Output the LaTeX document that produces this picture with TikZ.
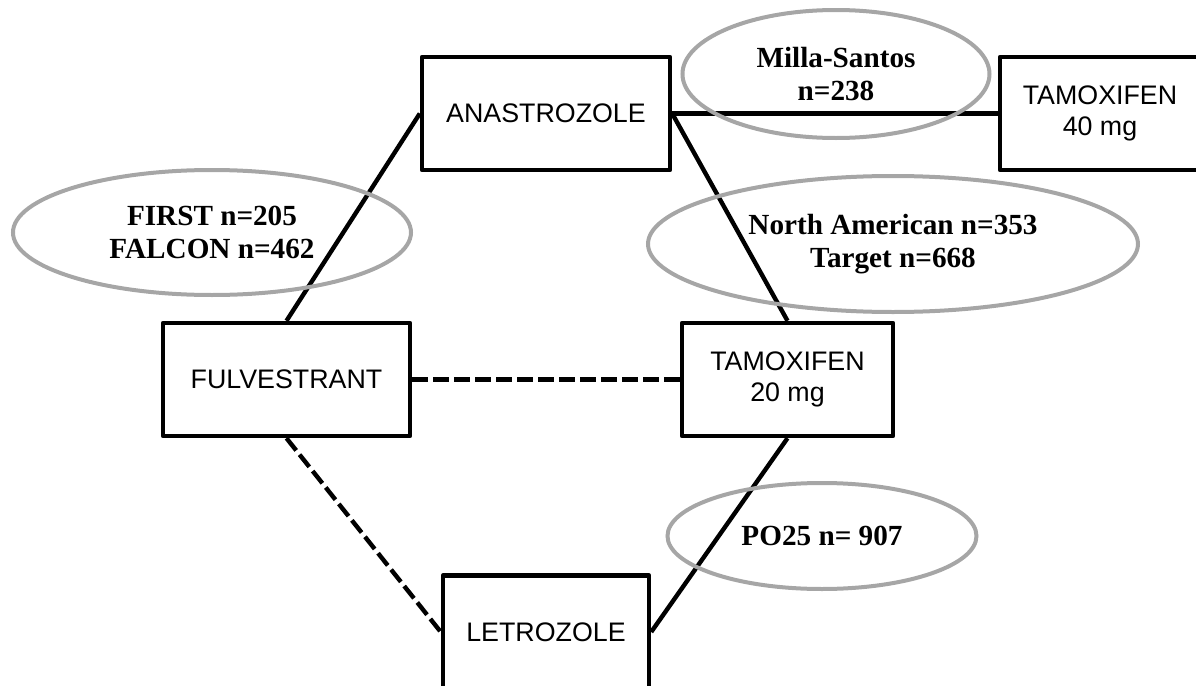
\documentclass[tikz,border=0pt]{standalone}
\usepackage{fontspec}
\setmainfont{Liberation Serif}
\setsansfont{Liberation Sans}
\usetikzlibrary{positioning,shapes.geometric}
\definecolor{ringgray}{RGB}{166,166,166}

\begin{document}
\begin{tikzpicture}[on grid,
    drug/.style={draw,line width=2.2pt,line join=round,rectangle,minimum height=56.5pt,
      inner sep=0pt,align=center,font=\sffamily\fontsize{13.4}{15.2}\selectfont},
    trial/.style={draw=ringgray,line width=2pt,ellipse,inner sep=0pt,align=center,
      font=\bfseries\fontsize{14.6}{16.5}\selectfont},
    link/.style={line width=2.2pt},
    weak/.style={link,dash pattern=on 7.8pt off 2.7pt}]
  \clip (-273pt,56.75pt) rectangle (325pt,-286.25pt);
  % drugs
  \node[drug,minimum width=124pt] (anas) {ANASTROZOLE};
  \node[drug,minimum width=100pt] (tam40) [right=277pt of anas] {TAMOXIFEN\\40 mg};
  \node[drug,minimum width=123.5pt] (fulv) [below left=133pt and 129.75pt of anas] {FULVESTRANT};
  \node[drug,minimum width=105.5pt] (tam20) [right=250.5pt of fulv] {TAMOXIFEN\\20 mg};
  \node[drug,minimum width=103pt] (letro) [below=259.25pt of anas] {LETROZOLE};
  % comparisons
  \draw[link] (anas.west) -- (fulv.north);
  \draw[link] (anas.east) -- (tam40.west);
  \draw[link] (anas.east) -- (tam20.north);
  \draw[weak] (fulv.east) -- (tam20.west);
  \draw[weak] (fulv.south) -- (letro.west);
  \draw[link] (tam20.south) -- (letro.east);
  % trials
  \node[trial,minimum width=153.5pt,minimum height=64pt] (milla) [above right=19.75pt and 145pt of anas] {Milla-Santos\\n=238};
  \node[trial,minimum width=199pt,minimum height=62.5pt] (first) [below left=59.5pt and 167pt of anas] {FIRST n=205\\FALCON n=462};
  \node[trial,minimum width=245pt,minimum height=68pt] (namer) [below right=65.25pt and 173.5pt of anas] {North American n=353\\Target n=668};
  \node[trial,minimum width=154.5pt,minimum height=53pt] (po25) [below right=211.25pt and 138pt of anas] {PO25 n= 907};
\end{tikzpicture}
\end{document}
